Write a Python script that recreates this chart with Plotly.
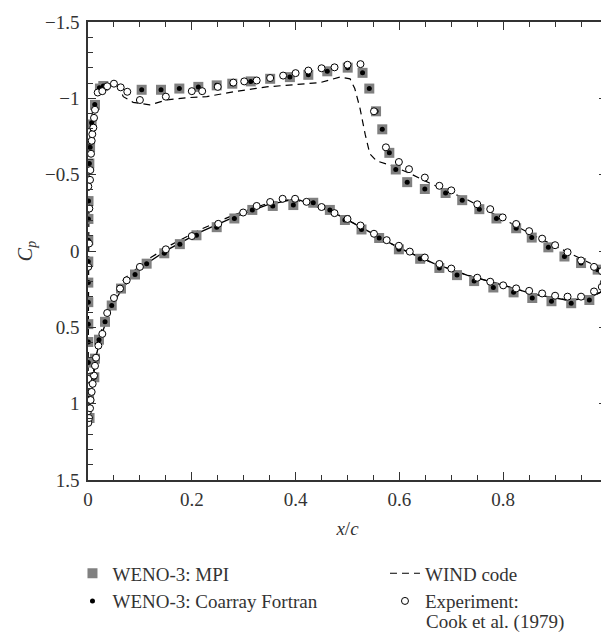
import plotly.graph_objects as go

# ---- WENO-3 (MPI) ----
mpi_upper_x = [0.0030, 0.0020, 0.0006, 0.0006, 0.0006, 0.0006, 0.0006, 0.0006, 0.0006, 0.0006, 0.0008,
               0.0010, 0.0026, 0.0040, 0.0070, 0.0135, 0.0230, 0.0295, 0.1034, 0.1407, 0.176, 0.2126,
               0.248, 0.278, 0.3135, 0.351, 0.389, 0.4245, 0.461, 0.5004, 0.529, 0.542, 0.555, 0.567,
               0.5806, 0.593, 0.615, 0.649, 0.689, 0.721, 0.754, 0.787, 0.825, 0.855, 0.887, 0.918,
               0.950, 0.982]
mpi_upper_cp = [1.094, 0.966, 0.838, 0.731, 0.596, 0.479, 0.335, 0.207, 0.069, -0.071, -0.210,
                -0.327, -0.573, -0.679, -0.829, -0.957, -1.064, -1.081, -1.056, -1.056, -1.064, -1.075,
                -1.085, -1.096, -1.111, -1.128, -1.139, -1.154, -1.177, -1.201, -1.167, -1.064, -0.915, -0.797,
                -0.643, -0.534, -0.451, -0.406, -0.380, -0.333, -0.274, -0.213, -0.149, -0.088, -0.024, 0.036,
                0.079, 0.122]
mpi_lower_x = [0.0122, 0.0135, 0.0212, 0.0328, 0.0457, 0.0636, 0.0906, 0.113, 0.147, 0.177, 0.209,
               0.248, 0.282, 0.3166, 0.356, 0.3956, 0.434, 0.466, 0.495, 0.527, 0.561, 0.599, 0.640,
               0.677, 0.711, 0.744, 0.781, 0.820, 0.856, 0.893, 0.931, 0.966]
mpi_lower_cp = [0.827, 0.705, 0.581, 0.464, 0.357, 0.246, 0.154, 0.083, 0.015, -0.045, -0.103,
                -0.156, -0.213, -0.269, -0.295, -0.301, -0.316, -0.269, -0.203, -0.141, -0.085, -0.011, 0.051,
                0.111, 0.158, 0.197, 0.239, 0.271, 0.308, 0.329, 0.342, 0.321]

# ---- WENO-3 (Coarray Fortran) ----
caf_upper_x = [0.0030, 0.0020, 0.0006, 0.0006, 0.0006, 0.0006, 0.0006, 0.0006, 0.0006, 0.0006, 0.0008,
               0.0010, 0.0026, 0.0040, 0.0070, 0.0130, 0.0220, 0.0295, 0.1034, 0.1407, 0.176, 0.2126,
               0.248, 0.278, 0.3135, 0.351, 0.389, 0.4245, 0.461, 0.5004, 0.529, 0.542, 0.555, 0.567,
               0.5806, 0.593, 0.615, 0.649, 0.689, 0.721, 0.754, 0.787, 0.825, 0.855, 0.887, 0.918,
               0.950, 0.982]
caf_upper_cp = [1.094, 0.966, 0.838, 0.731, 0.596, 0.479, 0.335, 0.207, 0.069, -0.071, -0.210,
                -0.327, -0.573, -0.679, -0.840, -0.960, -1.070, -1.081, -1.056, -1.056, -1.064, -1.075,
                -1.085, -1.096, -1.111, -1.128, -1.139, -1.154, -1.177, -1.201, -1.167, -1.064, -0.915, -0.797,
                -0.643, -0.534, -0.451, -0.406, -0.380, -0.333, -0.274, -0.213, -0.149, -0.088, -0.024, 0.036,
                0.079, 0.122]
caf_lower_x = mpi_lower_x[:]
caf_lower_cp = mpi_lower_cp[:]

# ---- WIND code ----
wind_upper_x = [0.0, 0.0005, 0.001, 0.002, 0.005, 0.010, 0.018, 0.030, 0.042, 0.052, 0.060, 0.068,
                0.087, 0.119, 0.152, 0.190, 0.229, 0.280, 0.344, 0.396, 0.447, 0.4855, 0.505, 0.514,
                0.524, 0.534, 0.543, 0.556, 0.588, 0.620, 0.665, 0.730, 0.794, 0.858, 0.922, 0.967, 1.0]
wind_upper_cp = [1.10, 0.50, 0.0, -0.50, -0.80, -0.95, -1.03, -1.065, -1.081, -1.096, -1.07, -1.011,
                 -0.974, -0.957, -0.990, -1.004, -1.011, -1.043, -1.075, -1.090, -1.103, -1.139, -1.128, -1.064,
                 -0.936, -0.765, -0.637, -0.590, -0.556, -0.508, -0.434, -0.338, -0.220, -0.103, 0.004, 0.079, 0.143]
wind_lower_x = [0.0, 0.003, 0.010, 0.020, 0.030, 0.049, 0.070, 0.119, 0.160, 0.216, 0.280, 0.344,
                0.396, 0.473, 0.537, 0.601, 0.665, 0.730, 0.794, 0.858, 0.922, 0.961, 0.987, 1.0]
wind_lower_cp = [1.10, 1.00, 0.80, 0.60, 0.47, 0.29, 0.18, 0.047, -0.040, -0.140, -0.235, -0.310,
                 -0.340, -0.255, -0.135, -0.017, 0.079, 0.158, 0.218, 0.282, 0.321, 0.314, 0.271, 0.239]

# ---- unlabelled solid curve (lower surface) ----
solid_x = [0.0, 0.004, 0.009, 0.015, 0.023, 0.0457, 0.068, 0.087, 0.119, 0.152, 0.216, 0.280, 0.344,
           0.396, 0.408, 0.473, 0.537, 0.601, 0.665, 0.730, 0.794, 0.858, 0.922, 0.961, 0.987, 1.0]
solid_cp = [1.12, 1.00, 0.85, 0.70, 0.58, 0.357, 0.239, 0.154, 0.069, -0.006, -0.124, -0.220, -0.300,
            -0.338, -0.333, -0.252, -0.135, -0.017, 0.079, 0.158, 0.218, 0.282, 0.321, 0.314, 0.271, 0.239]

# ---- Experiment: Cook et al. (1979) ----
exp_upper_x = [0.0006, 0.002, 0.0026, 0.0006, 0.0039, 0.0045, 0.0058, 0.0071, 0.0083, 0.0103, 0.0116,
               0.0135, 0.0187, 0.0276, 0.037, 0.050, 0.063, 0.0757, 0.100, 0.150, 0.200, 0.220, 0.250,
               0.280, 0.301, 0.325, 0.351, 0.376, 0.400, 0.4245, 0.450, 0.475, 0.500, 0.525, 0.551,
               0.574, 0.599, 0.6185, 0.649, 0.677, 0.700, 0.750, 0.775, 0.799, 0.825, 0.850, 0.875,
               0.900, 0.924, 0.950, 0.975, 0.990, 0.996]
exp_upper_cp = [0.104, -0.049, -0.278, -0.423, -0.466, -0.530, -0.637, -0.722, -0.765, -0.808, -0.872,
                -0.925, -1.038, -1.047, -1.079, -1.096, -1.072, -1.043, -0.989, -1.011, -1.047, -1.047, -1.075,
                -1.103, -1.111, -1.117, -1.133, -1.149, -1.165, -1.182, -1.197, -1.203, -1.220, -1.224, -0.915,
                -0.679, -0.583, -0.536, -0.481, -0.427, -0.397, -0.306, -0.274, -0.220, -0.177, -0.130, -0.081,
                -0.038, 0.008, 0.062, 0.104, 0.132, 0.154]
exp_lower_x = [0.0006, 0.0, 0.0006, 0.002, 0.0039, 0.005, 0.007, 0.009, 0.0116, 0.0135, 0.0154, 0.020,
               0.0276, 0.037, 0.050, 0.0617, 0.0745, 0.100, 0.150, 0.200, 0.251, 0.299, 0.325, 0.351,
               0.375, 0.399, 0.421, 0.450, 0.475, 0.500, 0.525, 0.551, 0.5755, 0.599, 0.620, 0.649,
               0.677, 0.700, 0.750, 0.775, 0.800, 0.825, 0.850, 0.875, 0.900, 0.924, 0.950, 0.975,
               0.990, 0.994]
exp_lower_cp = [0.838, 1.05, 1.126, 1.094, 1.030, 0.976, 0.923, 0.870, 0.816, 0.752, 0.699, 0.620,
                0.543, 0.406, 0.308, 0.246, 0.192, 0.104, -0.011, -0.098, -0.178, -0.252, -0.295, -0.321,
                -0.342, -0.342, -0.322, -0.288, -0.248, -0.210, -0.167, -0.113, -0.071, -0.034, 0.004, 0.043,
                0.085, 0.115, 0.175, 0.201, 0.225, 0.245, 0.261, 0.278, 0.293, 0.299, 0.299, 0.265,
                0.235, 0.207]

legend_names = ["WENO-3: MPI", "WENO-3: Coarray Fortran", "WIND code", "Experiment:", "Cook et al. (1979)"]

FONT = "Liberation Serif, Times New Roman, DejaVu Serif, serif"
INK = "#333333"
FS = 19
fig = go.Figure()

# lines first (drawn underneath markers)
fig.add_trace(go.Scatter(x=solid_x, y=solid_cp, mode="lines", line=dict(color="black", width=1.3),
                         showlegend=False, hoverinfo="skip"))
fig.add_trace(go.Scatter(x=wind_upper_x, y=wind_upper_cp, mode="lines", name=legend_names[2],
                         line=dict(color="black", width=1.2, dash="7px,5px"),
                         legend="legend2", legendrank=1, legendgroup="wind"))
fig.add_trace(go.Scatter(x=wind_lower_x, y=wind_lower_cp, mode="lines", showlegend=False,
                         line=dict(color="black", width=1.2, dash="7px,5px"),
                         legendgroup="wind"))

# WENO-3 MPI squares
fig.add_trace(go.Scatter(x=mpi_upper_x + mpi_lower_x, y=mpi_upper_cp + mpi_lower_cp, mode="markers",
                         name=legend_names[0],
                         marker=dict(symbol="square", size=10, color="#808080", line=dict(width=0)),
                         legend="legend", legendrank=1))
# WENO-3 CAF dots
fig.add_trace(go.Scatter(x=caf_upper_x + caf_lower_x, y=caf_upper_cp + caf_lower_cp, mode="markers",
                         name=legend_names[1],
                         marker=dict(symbol="circle", size=5, color="black", line=dict(width=0)),
                         legend="legend", legendrank=2))
# Experiment circles
fig.add_trace(go.Scatter(x=exp_upper_x + exp_lower_x, y=exp_upper_cp + exp_lower_cp, mode="markers",
                         name=legend_names[3],
                         marker=dict(symbol="circle", size=7, color="white",
                                     line=dict(width=1, color="black")),
                         legend="legend2", legendrank=2))

axis_common = dict(
    showline=True, linecolor=INK, linewidth=1.5, mirror="ticks",
    ticks="inside", ticklen=8, tickwidth=1.2, tickcolor=INK,
    showgrid=False, zeroline=False, ticklabeloverflow="allow",
    tickfont=dict(family=FONT, size=FS, color=INK),
)

fig.update_xaxes(range=[0, 1], dtick=0.2, tick0=0,
                 minor=dict(ticks="inside", ticklen=5, dtick=0.05, tickwidth=1.2, tickcolor=INK),
                 title=dict(text="<i>x</i>/<i>c</i>", font=dict(family=FONT, size=FS, color=INK),
                            standoff=13),
                 ticklabelstandoff=1,
                 **axis_common)
fig.update_yaxes(range=[1.5, -1.5], dtick=0.5, tick0=0,
                 minor=dict(ticks="inside", ticklen=5, dtick=0.1, tickwidth=1.2, tickcolor=INK),
                 title=dict(text="<i>C<sub>p</sub></i>", font=dict(family=FONT, size=20, color=INK),
                            standoff=7),
                 ticklabelstandoff=3,
                 **axis_common)

legend_common = dict(orientation="v", bgcolor="rgba(0,0,0,0)", borderwidth=0,
                     font=dict(family=FONT, size=FS, color=INK),
                     yanchor="top", xanchor="left", valign="middle", tracegroupgap=0,
                     itemsizing="trace")
# the page body adds an 8 px offset, so the margins are shifted by 8 px
fig.update_layout(
    width=609, height=639,
    margin=dict(l=80, r=10, t=4, b=167),
    paper_bgcolor="white", plot_bgcolor="white",
    font=dict(family=FONT, size=FS, color=INK),
    showlegend=True,
    legend=dict(x=-0.0299, y=-0.1624, **legend_common),
    legend2=dict(x=0.5722, y=-0.1624, **legend_common),
)
# second line of the experiment legend entry
fig.add_annotation(text=legend_names[4], xref="paper", yref="paper", x=0.6493, y=-0.3098,
                   xanchor="left", yanchor="middle", showarrow=False, borderpad=0,
                   font=dict(family=FONT, size=FS, color=INK))

fig.write_html("out.html")
